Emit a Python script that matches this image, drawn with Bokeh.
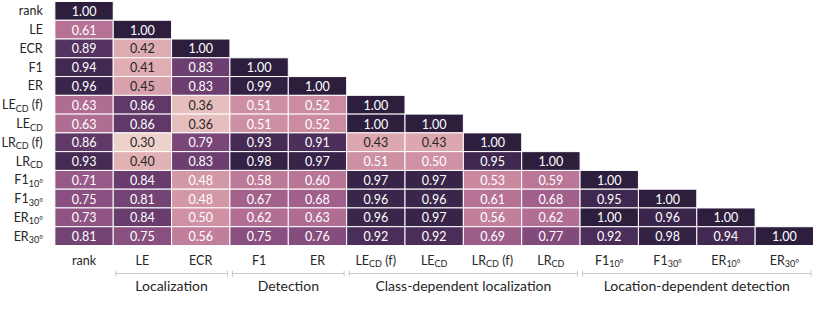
import glob
import os
import struct

import numpy as np
from bokeh.core.properties import value
from bokeh.embed import file_html
from bokeh.models import ColumnDataSource, LinearColorMapper, Range1d
from bokeh.plotting import figure
from bokeh.resources import INLINE
from bokeh.transform import transform

# ---------------- data ----------------
METRIC_BASE = ["rank", "LE", "ECR", "F1", "ER", "LE", "LE", "LR", "LR", "F1", "F1", "ER", "ER"]
METRIC_SUB = ["", "", "", "", "", "CD", "CD", "CD", "CD", "10°", "30°", "10°", "30°"]
METRIC_SUFFIX = ["", "", "", "", "", " (f)", "", " (f)", "", "", "", "", ""]

CORR_ROWS = [
    [1.00],
    [0.61, 1.00],
    [0.89, 0.42, 1.00],
    [0.94, 0.41, 0.83, 1.00],
    [0.96, 0.45, 0.83, 0.99, 1.00],
    [0.63, 0.86, 0.36, 0.51, 0.52, 1.00],
    [0.63, 0.86, 0.36, 0.51, 0.52, 1.00, 1.00],
    [0.86, 0.30, 0.79, 0.93, 0.91, 0.43, 0.43, 1.00],
    [0.93, 0.40, 0.83, 0.98, 0.97, 0.51, 0.50, 0.95, 1.00],
    [0.71, 0.84, 0.48, 0.58, 0.60, 0.97, 0.97, 0.53, 0.59, 1.00],
    [0.75, 0.81, 0.48, 0.67, 0.68, 0.96, 0.96, 0.61, 0.68, 0.95, 1.00],
    [0.73, 0.84, 0.50, 0.62, 0.63, 0.96, 0.97, 0.56, 0.62, 1.00, 0.96, 1.00],
    [0.81, 0.75, 0.56, 0.75, 0.76, 0.92, 0.92, 0.69, 0.77, 0.92, 0.98, 0.94, 1.00],
]

GROUP_NAMES = ["Localization", "Detection", "Class-dependent localization", "Location-dependent detection"]
GROUP_FIRST = [1, 3, 5, 9]
GROUP_LAST = [2, 4, 8, 12]

# ---------------- font metrics (for composite labels with subscripts) ----------------
FALLBACK_EM = {
    "L": 0.51, "E": 0.56, "R": 0.62, "C": 0.66, "D": 0.74, "F": 0.55, "1": 0.58, "0": 0.58,
    "3": 0.58, "(": 0.30, ")": 0.30, "f": 0.33, " ": 0.26, "°": 0.40, "r": 0.37, "a": 0.49,
    "n": 0.56, "k": 0.50,
}


def _parse_font(fn):
    data = open(fn, "rb").read()
    num = struct.unpack(">H", data[4:6])[0]
    tables = {}
    for i in range(num):
        rec = data[12 + 16 * i: 28 + 16 * i]
        tag = rec[:4].decode("latin1")
        off = struct.unpack(">I", rec[8:12])[0]
        tables[tag] = off
    upem = struct.unpack(">H", data[tables["head"] + 18: tables["head"] + 20])[0]
    nhm = struct.unpack(">H", data[tables["hhea"] + 34: tables["hhea"] + 36])[0]
    hmtx = tables["hmtx"]
    cm = tables["cmap"]
    n = struct.unpack(">H", data[cm + 2: cm + 4])[0]
    sub = None
    for i in range(n):
        pid, eid, off = struct.unpack(">HHI", data[cm + 4 + 8 * i: cm + 12 + 8 * i])
        fmt = struct.unpack(">H", data[cm + off: cm + off + 2])[0]
        if fmt == 4 and pid in (0, 3):
            sub = cm + off
            break
    segx2 = struct.unpack(">H", data[sub + 6: sub + 8])[0]
    ends = sub + 14
    starts = ends + segx2 + 2
    deltas = starts + segx2
    ros = deltas + segx2

    def u16(a):
        return struct.unpack(">H", data[a: a + 2])[0]

    def gid(c):
        for s in range(segx2 // 2):
            if c <= u16(ends + 2 * s):
                st = u16(starts + 2 * s)
                if c < st:
                    return 0
                d = struct.unpack(">h", data[deltas + 2 * s: deltas + 2 * s + 2])[0]
                ro = u16(ros + 2 * s)
                if ro == 0:
                    return (c + d) & 0xFFFF
                g = u16(ros + 2 * s + ro + 2 * (c - st))
                return (g + d) & 0xFFFF if g else 0
        return 0

    def adv(ch):
        g = min(gid(ord(ch)), nhm - 1)
        return u16(hmtx + 4 * g) / upem

    adv("L")
    return adv


def _load_metrics():
    pats = ["/usr/share/fonts/**/Lato-Regular.ttf", "/usr/local/share/fonts/**/Lato-Regular.ttf",
            os.path.expanduser("~/.fonts/**/Lato-Regular.ttf"), "/usr/share/fonts/**/Lato*Reg*.*tf"]
    for pat in pats:
        for fn in sorted(glob.glob(pat, recursive=True)):
            try:
                return _parse_font(fn)
            except Exception:
                pass
    return lambda ch: FALLBACK_EM.get(ch, 0.55)


EM = _load_metrics()


def text_w(s, size):
    return sum(EM(c) for c in s) * size


# ---------------- layout (figure pixels) ----------------
N = len(CORR_ROWS)
FW, FH = 814, 294
MAIN_FS, SUB_FS, GROUP_FS, VAL_FS = 12.5, 9, 14, 12.5
SUB_DROP = 3.5          # subscript centre below main-text centre
LABEL_GAP = 12


def pieces(i):
    """Return list of (text, is_sub, x_offset_from_start) and total width."""
    out, cur = [], 0.0
    out.append((METRIC_BASE[i], False, cur))
    cur += text_w(METRIC_BASE[i], MAIN_FS)
    if METRIC_SUB[i]:
        out.append((METRIC_SUB[i], True, cur))
        cur += text_w(METRIC_SUB[i], SUB_FS)
    if METRIC_SUFFIX[i]:
        sfx = METRIC_SUFFIX[i]
        lead = len(sfx) - len(sfx.lstrip(" "))
        out.append((sfx.lstrip(" "), False, cur + text_w(" " * lead, MAIN_FS)))
        cur += text_w(sfx, MAIN_FS)
    return out, cur


label_parts = [pieces(i) for i in range(N)]
max_w = max(w for _, w in label_parts)

CELL_L = max(53.0, max_w + 1 + LABEL_GAP)
CELL_R = FW - 1
CELL_T = 1
CELL_B = 245
cw = (CELL_R - CELL_L) / N
ch = (CELL_B - CELL_T) / N

TICK_MID = 14.5     # x-label centre below the cells
BRACKET_Y = 28
GROUP_MID = 40

# ---------------- colour map (seaborn cubehelix_palette default) ----------------
def cubehelix(n=256, start=0.0, rot=0.4, gamma=1.0, hue=0.8, light=0.85, dark=0.15):
    xs = np.linspace(light, dark, n)

    def comp(p0, p1):
        xg = xs ** gamma
        a = hue * xg * (1 - xg) / 2
        phi = 2 * np.pi * (start / 3 + rot * xs)
        return np.clip(xg + a * (p0 * np.cos(phi) + p1 * np.sin(phi)), 0, 1)

    r = comp(-0.14861, 1.78277)
    g = comp(-0.29227, -0.90649)
    b = comp(1.97294, 0.0)
    return [(r[k], g[k], b[k]) for k in range(n)]


PAL_RGB = cubehelix()
PALETTE = ["#%02x%02x%02x" % tuple(int(round(c * 255)) for c in rgb) for rgb in PAL_RGB]
all_vals = [v for row in CORR_ROWS for v in row]
LO, HI = min(all_vals), max(all_vals)
mapper = LinearColorMapper(palette=PALETTE, low=LO, high=HI)


def lum(rgb):
    lin = [c / 12.92 if c <= 0.03928 else ((c + 0.055) / 1.055) ** 2.4 for c in rgb]
    return 0.2126 * lin[0] + 0.7152 * lin[1] + 0.0722 * lin[2]


# ---------------- sources ----------------
cx, cy, cv, ctxt, ccol = [], [], [], [], []
for i, row in enumerate(CORR_ROWS):
    for j, v in enumerate(row):
        cx.append(j + 0.5)
        cy.append(N - 1 - i + 0.5)
        cv.append(v)
        ctxt.append(f"{v:.2f}")
        idx = min(int((v - LO) / (HI - LO) * len(PALETTE)), len(PALETTE) - 1)
        ccol.append("#262626" if lum(PAL_RGB[idx]) > 0.408 else "#ffffff")
cells = ColumnDataSource(dict(x=cx, y=cy, v=cv, t=ctxt, tc=ccol))

main = dict(x=[], y=[], t=[], xo=[], yo=[])
subs = dict(x=[], y=[], t=[], xo=[], yo=[])
for i, (parts, w) in enumerate(label_parts):
    # row label (right aligned, left of the cells)
    for txt, is_sub, off in parts:
        d = subs if is_sub else main
        d["x"].append(0.0)
        d["y"].append(N - 1 - i + 0.5)
        d["t"].append(txt)
        d["xo"].append(-LABEL_GAP - w + off)
        d["yo"].append(SUB_DROP if is_sub else 0.0)
    # column label (centered below the cells)
    for txt, is_sub, off in parts:
        d = subs if is_sub else main
        d["x"].append(i + 0.5)
        d["y"].append(0.0)
        d["t"].append(txt)
        d["xo"].append(-w / 2 + off)
        d["yo"].append(TICK_MID + (SUB_DROP if is_sub else 0.0))

# ---------------- figure ----------------
p = figure(
    width=FW, height=FH,
    x_range=Range1d(-CELL_L / cw, N + (FW - CELL_R) / cw),
    y_range=Range1d(-(FH - CELL_B) / ch, N + CELL_T / ch),
    output_backend="svg", toolbar_location=None,
    x_axis_location=None, y_axis_location=None,
    min_border=0, outline_line_color=None, title=None,
)
p.grid.visible = False
p.background_fill_color = "white"
p.border_fill_color = "white"

p.rect(x="x", y="y", width=1, height=1, source=cells,
       fill_color=transform("v", mapper), line_color="white", line_width=1)
p.text(x="x", y="y", text="t", source=cells, text_color="tc",
       text_align="center", text_baseline="middle",
       text_font=value("Lato"), text_font_size=f"{VAL_FS}px")

p.text(x="x", y="y", text="t", x_offset="xo", y_offset="yo", source=ColumnDataSource(main),
       text_color="#262626", text_align="left", text_baseline="middle",
       text_font=value("Lato"), text_font_size=f"{MAIN_FS}px")
p.text(x="x", y="y", text="t", x_offset="xo", y_offset="yo", source=ColumnDataSource(subs),
       text_color="#262626", text_align="left", text_baseline="middle",
       text_font=value("Lato"), text_font_size=f"{SUB_FS}px")

# group brackets
inset = 2.5 / cw
by = -BRACKET_Y / ch
cap = 3.0 / ch
gx0 = [f + inset for f in GROUP_FIRST]
gx1 = [l + 1 - inset for l in GROUP_LAST]
p.segment(x0=gx0, y0=[by] * len(gx0), x1=gx1, y1=[by] * len(gx0),
          line_color="#c8c8c8", line_width=1)
capx = gx0 + gx1
p.segment(x0=capx, y0=[by - cap] * len(capx), x1=capx, y1=[by + cap] * len(capx),
          line_color="#c8c8c8", line_width=1)
p.text(x=[(f + l + 1) / 2 for f, l in zip(GROUP_FIRST, GROUP_LAST)], y=[0.0] * len(GROUP_NAMES),
       text=GROUP_NAMES, y_offset=GROUP_MID, text_color="#262626",
       text_align="center", text_baseline="middle",
       text_font=value("Lato"), text_font_size=f"{GROUP_FS}px")

open("out.html", "w").write(file_html(p, INLINE))
